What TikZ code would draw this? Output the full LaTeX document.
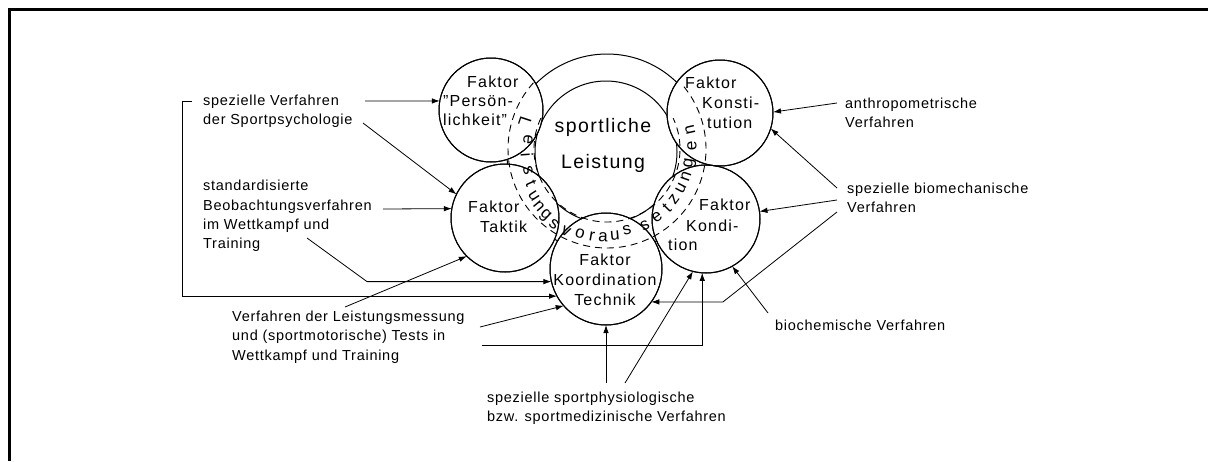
\documentclass[tikz,border=0pt]{standalone}
\usepackage{fontspec}
\setmainfont{Liberation Sans}[LetterSpace=7.5]
\newfontfamily\lblff{Liberation Sans}[LetterSpace=5]
\usetikzlibrary{arrows.meta}
\newcommand\lblfont{\lblff\fontsize{14.5}{19.3}\selectfont}
\newcommand\cirfont{\fontsize{16}{20}\selectfont}
\newcommand\bigfont{\fontsize{19.5}{36}\selectfont}
\newcommand\arcfont{\fontsize{17}{17}\selectfont}
\begin{document}
\begin{tikzpicture}[x=1pt,y=1pt,
  lbl/.style={font=\lblfont, align=left, inner sep=0pt, anchor=west},
  ct/.style={font=\cirfont, inner sep=0pt, anchor=west},
  arcl/.style={font=\arcfont, inner sep=0pt},
  bigc/.style={circle, draw, line width=1pt, inner sep=0pt, outer sep=0pt},
  fc/.style={circle, draw, fill=white, line width=1pt, inner sep=0pt, outer sep=0pt},
  circ/.style={line width=1pt},
  dsh/.style={line width=0.9pt, dash pattern=on 7pt off 5pt},
  arr/.style={line width=0.8pt, -{Latex[length=8pt,width=5.5pt]}}]
\path[use as bounding box] (0,0) rectangle (1208,-461);
% frame (top and left edges)
\fill[black] (8.2,-8.2) rectangle (1208,-11.2);
\fill[black] (8.2,-8.2) rectangle (11.2,-461);

% big circles
\node[bigc, minimum size=200pt] (OUT) at (607,-154) {};
\node[bigc, minimum size=142pt] (SL) at (606,-152) {};

% factor circles
\node[fc, minimum size=104pt] (P) at (491,-110) {};
\node[fc, minimum size=108pt] (T) at (505,-218) {};
\node[fc, minimum size=112pt] (K) at (606,-269) {};
\node[fc, minimum size=108pt] (Kd) at (706,-219) {};
\node[fc, minimum size=106pt] (Ks) at (720,-113) {};
\foreach \n/\r in {P/52,T/54,K/56,Kd/54,Ks/53}
  \draw[circ] (\n.center) circle[radius=\r];

% dashed band
\draw[dsh] (607,-149) ++(138:99) arc[start angle=138, end angle=400, radius=99];
\draw[dsh] (607,-149) ++(155:73) arc[start angle=155, end angle=385, radius=73];

% letters of Leistungsvoraussetzungen
\foreach \ch/\px/\py [count=\i] in {L/525/122, e/528/140, i/527/155, s/528/170, t/531/183, u/534/196, n/539/206, g/545/216, s/554/224, v/566/231, o/580/234, r/592/236, a/603/237, u/615/236, s/627/230, s/645/226, e/657/217, t/667/208, z/674/199, u/681/188, n/686/177, g/690/163, e/692/146, n/690/130} {
  \pgfmathsetmacro\rot{atan2(149-\py,\px-607)+90}
  \node[arcl, rotate=\rot] (lv\i) at (\px,-\py) {\ch};
}

% circle texts
\node[font=\bigfont, align=center, inner sep=0pt] (slt) at (603,-145) {sportliche\\Leistung};
\node[ct] (p1) at (467,-82) {Faktor};
\node[ct] (p2) at (443,-101) {"Persön-};
\node[ct] (p3) at (443,-120) {lichkeit"};
\node[ct] (s1) at (685,-83) {Faktor};
\node[ct] (s2) at (702,-103) {Konsti-};
\node[ct] (s3) at (707,-123) {tution};
\node[ct] (t1) at (468,-207) {Faktor};
\node[ct] (t2) at (480,-227) {Taktik};
\node[ct] (d1) at (699,-205) {Faktor};
\node[ct] (d2) at (686,-226) {Kondi-};
\node[ct] (d3) at (668,-245) {tion};
\node[font=\cirfont, align=center, inner sep=0pt] (kt) at (605,-280) {Faktor\\Koordination\\Technik};

% labels
\node[lbl] (l1) at (203,-111) {spezielle Verfahren\\der Sportpsychologie};
\node[lbl] (l2) at (203,-216) {standardisierte\\Beobachtungsverfahren\\im Wettkampf und\\Training};
\node[lbl] (l3) at (232,-337) {Verfahren der Leistungsmessung\\und (sportmotorische) Tests in\\Wettkampf und Training};
\node[lbl] (l4) at (487,-408) {spezielle sportphysiologische\\bzw. sportmedizinische Verfahren};
\node[lbl] (l5) at (775,-325) {biochemische Verfahren};
\node[lbl] (l6) at (847,-198) {spezielle biomechanische\\Verfahren};
\node[lbl] (l7) at (845,-113) {anthropometrische\\Verfahren};

% free ends
\coordinate (a1) at (365,-101);
\coordinate (a2) at (363,-123);
\coordinate (a3) at (383,-209);
\coordinate (a4) at (307,-238);
\coordinate (a4m) at (367,-282);
\coordinate (a5) at (192,-101);
\coordinate (a5c) at (182,-101);
\coordinate (a6) at (345,-307);
\coordinate (a7) at (480,-327);
\coordinate (a8) at (482,-345);
\coordinate (a9) at (606,-383);
\coordinate (a10) at (625,-383);
\coordinate (a11) at (768,-313);
\coordinate (a12) at (837,-200);
\coordinate (a13) at (837,-188);
\coordinate (a14) at (837,-212);
\coordinate (a14m) at (723,-302);
\coordinate (a15) at (837,-103);

% arrows
\draw[arr] (a1) -- (P.170);
\draw[arr] (a2) -- (T.154);
\draw[arr] (a3) -- (T.170);
\draw[arr] (a4) -- (a4m |- K.193) -- (K.193);
\draw[arr] (a5) -- (a5c) |- (K.209);
\draw[arr] (a6) -- (T.225);
\draw[arr] (a7) -- (K.221);
\draw[arr] (a8) -| (Kd.266);
\draw[arr] (a9) -- (K.270);
\draw[arr] (a10) -- (Kd.256);
\draw[arr] (a11) -- (Kd.299);
\draw[arr] (a12) -- (Kd.8);
\draw[arr] (a13) -- (Ks.343);
\draw[arr] (a14) -- (a14m |- K.324) -- (K.324);
\draw[arr] (a15) -- (Ks.1);
\end{tikzpicture}
\end{document}
